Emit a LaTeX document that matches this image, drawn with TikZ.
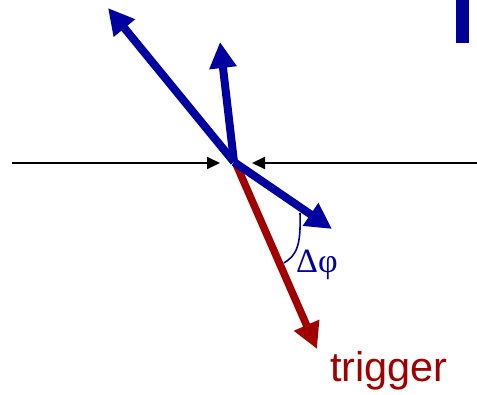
\documentclass[tikz,border=0pt]{standalone}
\usepackage{fontspec}
\setmainfont{Liberation Serif}
\newfontfamily\trigfont{Liberation Sans}
\usetikzlibrary{arrows.meta}
\definecolor{myblue}{RGB}{0,0,160}
\definecolor{barblue}{RGB}{0,0,150}
\definecolor{myred}{RGB}{160,0,0}
\tikzset{
  bluevec/.style={draw=myblue, line width=8pt, -{Triangle[length=26pt,width=26pt]}, color=myblue},
  redvec/.style={draw=myred, line width=7.5pt, -{Triangle[length=26pt,width=26pt]}, color=myred},
  beam/.style={draw=black, line width=1.8pt, -{Triangle[length=13pt,width=12pt]}},
}
\begin{document}
\begin{tikzpicture}[x=1pt,y=-1pt]
\useasboundingbox (0,0) rectangle (477,395);
\coordinate (C) at (234,162);
\coordinate (Cr) at (236,164);
\coordinate (UL) at (108,8);
\coordinate (UP) at (220,42);
\coordinate (LR) at (332,229);
\coordinate (TR) at (317,349);
\coordinate (BL) at (12,163);
\coordinate (BLe) at (220,163);
\coordinate (BR) at (477,163);
\coordinate (BRe) at (252,163);
\coordinate (A1) at (300,213);
\coordinate (A2) at (284,263);
\fill[barblue] (456,0) rectangle (469,43);
\draw[beam] (BL) -- (BLe);
\draw[beam] (BR) -- (BRe);
\draw[redvec] (Cr) -- (TR);
\draw[bluevec] (C) -- (UL);
\draw[bluevec] (C) -- (UP);
\draw[bluevec] (C) -- (LR);
\draw[myblue, line width=1.6pt] (A1) .. controls (301,245) and (297,255) .. (A2);
\node[anchor=base west, inner sep=0pt, text=myblue, font=\fontsize{34}{39}\selectfont] (dphi) at (296,273) {Δφ};
\node[anchor=base west, inner sep=0pt, text=myred, font=\trigfont\fontsize{41.5}{48}\selectfont] (trig) at (330,382) {trigger};
\end{tikzpicture}
\end{document}
